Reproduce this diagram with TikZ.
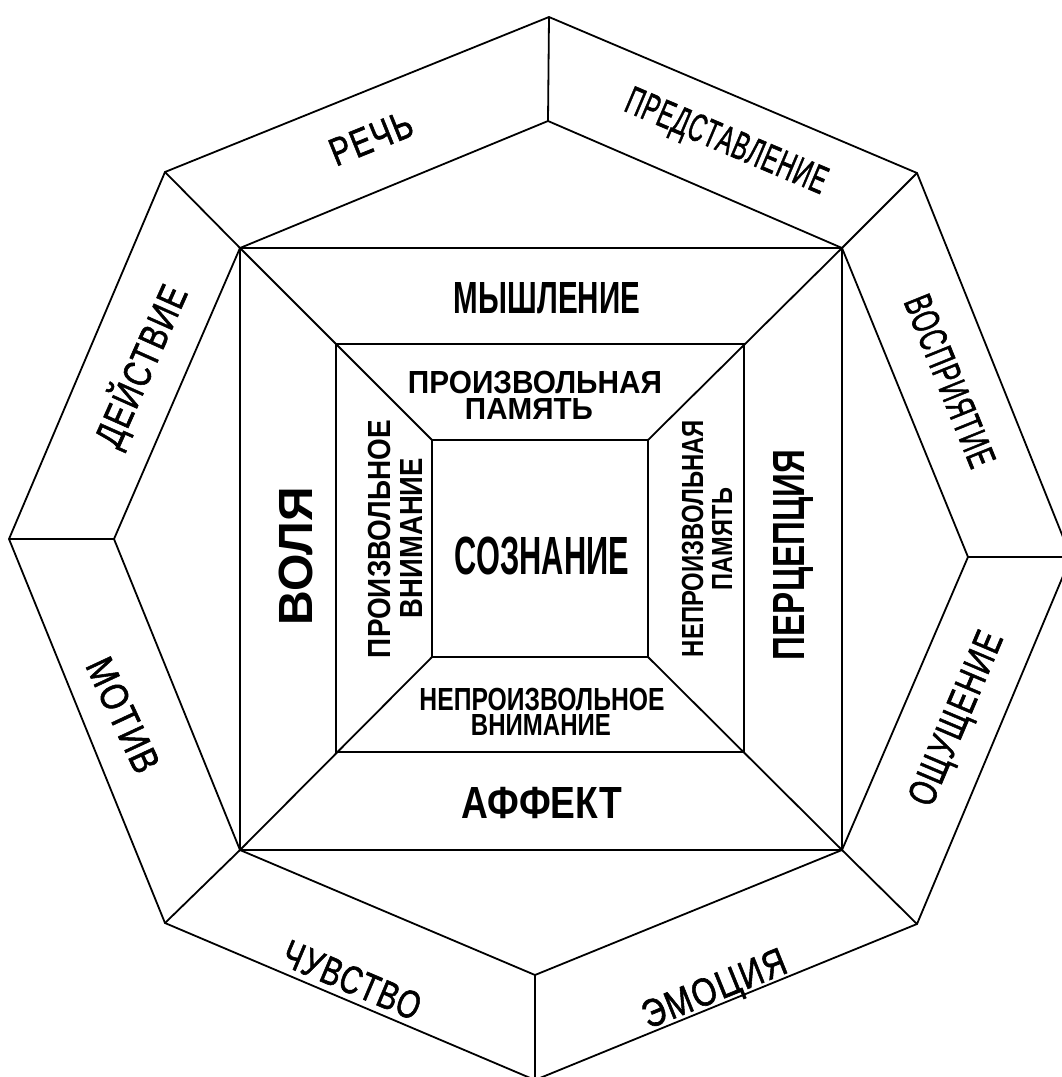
\documentclass[tikz,border=0pt]{standalone}
\usepackage{fontspec}
\usepackage{graphicx}
\setmainfont{Liberation Sans}
\newfontfamily\lightf{Liberation Sans}[LetterSpace=5, FakeBold=1.6]
\newcommand{\fitt}[3]{\resizebox{#1pt}{#2pt}{\smash{#3}\vphantom{H}}}
\begin{document}
\begin{tikzpicture}[x=1pt,y=-1pt,
  edge/.style={line width=1.8pt, line join=miter},
  lbl/.style={inner sep=0pt, outer sep=0pt}]
\useasboundingbox (0,0) rectangle (1061,1077);
% outer octagon
\coordinate (O1) at (549,17);
\coordinate (O2) at (917,173);
\coordinate (O3) at (1071,557);
\coordinate (O4) at (917,924);
\coordinate (O5) at (535,1080);
\coordinate (O6) at (165,923);
\coordinate (O7) at (9,539);
\coordinate (O8) at (165,172);
% inner octagon
\coordinate (I1) at (548,121);
\coordinate (I2) at (842,248);
\coordinate (I3) at (968,557);
\coordinate (I4) at (842,850);
\coordinate (I5) at (535,975);
\coordinate (I6) at (240,850);
\coordinate (I7) at (114,539);
\coordinate (I8) at (240,248);
% middle square
\coordinate (M1) at (336,344);
\coordinate (M2) at (744,344);
\coordinate (M3) at (744,752);
\coordinate (M4) at (336,752);
% inner square
\coordinate (S1) at (432,440);
\coordinate (S2) at (648,440);
\coordinate (S3) at (648,657);
\coordinate (S4) at (432,657);

\draw[edge] (O1)--(O2)--(O3)--(O4)--(O5)--(O6)--(O7)--(O8)--cycle;
\draw[edge] (I1)--(I2)--(I3)--(I4)--(I5)--(I6)--(I7)--(I8)--cycle;
\foreach \k in {1,...,8} {\draw[edge] (O\k)--(I\k);}
\draw[edge] (I8)--(I2)--(I4)--(I6)--cycle;
\draw[edge] (M1)--(M2)--(M3)--(M4)--cycle;
\draw[edge] (S1)--(S2)--(S3)--(S4)--cycle;
\draw[edge] (I8)--(S1) (I2)--(S2) (I4)--(S3) (I6)--(S4);

% inner labels
\node[lbl] (myshl) at (547,298) {\fitt{186}{31}{\bfseries МЫШЛЕНИЕ}};
\node[lbl] (proizvp1) at (535,382) {\fitt{254}{22}{\bfseries ПРОИЗВОЛЬНАЯ}};
\node[lbl] (proizvp2) at (529,409) {\fitt{128}{21}{\bfseries ПАМЯТЬ}};
\node[lbl] (soznanie) at (542,556) {\fitt{174}{37}{\bfseries СОЗНАНИЕ}};
\node[lbl] (neprv1) at (542,699) {\fitt{245}{22}{\bfseries НЕПРОИЗВОЛЬНОЕ}};
\node[lbl] (neprv2) at (541,725) {\fitt{140}{21}{\bfseries ВНИМАНИЕ}};
\node[lbl] (affekt) at (542,803) {\fitt{160}{31}{\bfseries АФФЕКТ}};
\node[lbl, rotate=90] (volya) at (296,556) {\fitt{138}{33}{\bfseries ВОЛЯ}};
\node[lbl, rotate=90] (percep) at (789,555) {\fitt{210}{31}{\bfseries ПЕРЦЕПЦИЯ}};
\node[lbl, rotate=90] (prv1) at (379,539) {\fitt{238}{22}{\bfseries ПРОИЗВОЛЬНОЕ}};
\node[lbl, rotate=90] (prv2) at (411,538) {\fitt{160}{22}{\bfseries ВНИМАНИЕ}};
\node[lbl, rotate=90] (nepp1) at (692.5,538.5) {\fitt{237}{21}{\bfseries НЕПРОИЗВОЛЬНАЯ}};
\node[lbl, rotate=90] (nepp2) at (722,539) {\fitt{102}{20}{\bfseries ПАМЯТЬ}};

% outer labels
\node[lbl, rotate=22] (rech) at (371,138) {\fitt{86}{27}{\lightf РЕЧЬ}};
\node[lbl, rotate=-23] (predst) at (727,140) {\fitt{215}{27}{\lightf ПРЕДСТАВЛЕНИЕ}};
\node[lbl, rotate=-68] (vospr) at (950,381) {\fitt{182}{27}{\lightf ВОСПРИЯТИЕ}};
\node[lbl, rotate=67] (oshch) at (955,718) {\fitt{185}{27}{\lightf ОЩУЩЕНИЕ}};
\node[lbl, rotate=22] (emoc) at (714,988) {\fitt{152}{27}{\lightf ЭМОЦИЯ}};
\node[lbl, rotate=-23] (chuv) at (352,980) {\fitt{146}{27}{\lightf ЧУВСТВО}};
\node[lbl, rotate=-65] (motiv) at (123,715) {\fitt{122}{27}{\lightf МОТИВ}};
\node[lbl, rotate=66] (deistv) at (141,366) {\fitt{172}{27}{\lightf ДЕЙСТВИЕ}};
\end{tikzpicture}
\end{document}
